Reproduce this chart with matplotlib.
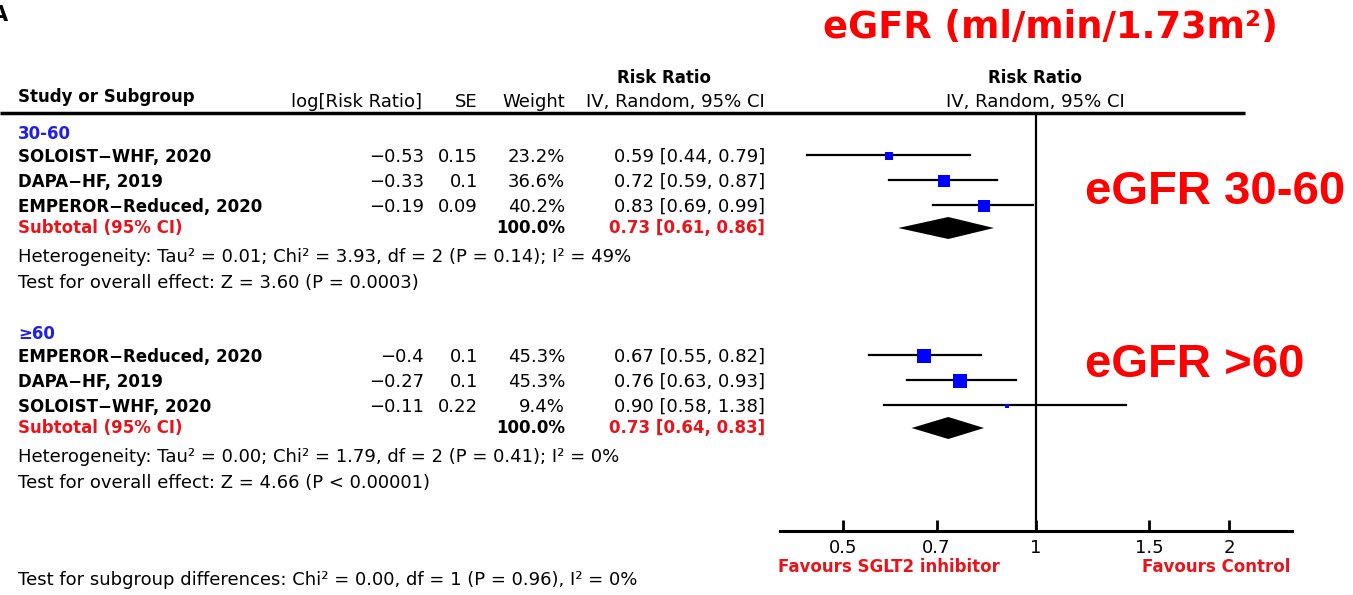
import matplotlib.pyplot as plt
import numpy as np
from matplotlib.ticker import FixedLocator, FixedFormatter, NullLocator

# data
groups = ['30-60', '\u226560']
studies_a = ['SOLOIST\u2212WHF, 2020', 'DAPA\u2212HF, 2019', 'EMPEROR\u2212Reduced, 2020']
studies_b = ['EMPEROR\u2212Reduced, 2020', 'DAPA\u2212HF, 2019', 'SOLOIST\u2212WHF, 2020']
logrr_a = [-0.53, -0.33, -0.19]
logrr_b = [-0.4, -0.27, -0.11]
se_a = [0.15, 0.1, 0.09]
se_b = [0.1, 0.1, 0.22]
weight_a = [23.2, 36.6, 40.2]
weight_b = [45.3, 45.3, 9.4]
rr_a = [0.59, 0.72, 0.83]
lo_a = [0.44, 0.59, 0.69]
hi_a = [0.79, 0.87, 0.99]
rr_b = [0.67, 0.76, 0.90]
lo_b = [0.55, 0.63, 0.58]
hi_b = [0.82, 0.93, 1.38]
sub_rr = [0.73, 0.73]
sub_lo = [0.61, 0.64]
sub_hi = [0.86, 0.83]
heterogeneity = ['Heterogeneity: Tau\u00b2 = 0.01; Chi\u00b2 = 3.93, df = 2 (P = 0.14); I\u00b2 = 49%',
                 'Heterogeneity: Tau\u00b2 = 0.00; Chi\u00b2 = 1.79, df = 2 (P = 0.41); I\u00b2 = 0%']
overall = ['Test for overall effect: Z = 3.60 (P = 0.0003)',
           'Test for overall effect: Z = 4.66 (P < 0.00001)']
subgroup_test = 'Test for subgroup differences: Chi\u00b2 = 0.00, df = 1 (P = 0.96), I\u00b2 = 0%'
ticks = [0.5, 0.7, 1, 1.5, 2]
tick_labels = ['0.5', '0.7', '1', '1.5', '2']

table = [
    (studies_a, logrr_a, se_a, weight_a, rr_a, lo_a, hi_a),
    (studies_b, logrr_b, se_b, weight_b, rr_b, lo_b, hi_b),
]

RED = '#e8141c'
BLUE = '#1f1fe6'
FS = 13     # regular text
FB = 12     # bold text

def num(v):
    return f'{v:g}'.replace('-', '\u2212')

fig = plt.figure(figsize=(13.53, 5.95), dpi=100)
tax = fig.add_axes([0, 0, 1, 1])
tax.set_xlim(0, 1353)
tax.set_ylim(595, 0)
tax.axis('off')

fax = fig.add_axes([780 / 1353, (595 - 531) / 595, 512 / 1353, (531 - 112) / 595])
fax.set_xscale('log')
fax.set_xlim(0.399, 2.507)
fax.set_ylim(531, 112)
fax.patch.set_alpha(0)
for s in ['top', 'left', 'right']:
    fax.spines[s].set_visible(False)
fax.spines['bottom'].set_linewidth(2.2)
fax.xaxis.set_major_locator(FixedLocator(ticks))
fax.xaxis.set_major_formatter(FixedFormatter(tick_labels))
fax.xaxis.set_minor_locator(NullLocator())
fax.tick_params(axis='x', direction='in', length=8, width=2, labelsize=FS, pad=6)
fax.set_yticks([])
fax.axvline(1, color='black', lw=1.6)

# headers
tax.text(-8, 15, 'A', fontsize=15, fontweight='bold', ha='left', va='center')
tax.text(823, 28, 'eGFR (ml/min/1.73m\u00b2)', fontsize=26.5, fontweight='bold',
         color='#ff0000', ha='left', va='center')
tax.text(18, 97, 'Study or Subgroup', fontsize=FB, fontweight='bold', va='center')
tax.text(422, 102, 'log[Risk Ratio]', fontsize=FS, ha='right', va='center')
tax.text(478, 102, 'SE', fontsize=FS, ha='right', va='center')
tax.text(565, 102, 'Weight', fontsize=FS, ha='right', va='center')
tax.text(765, 102, 'IV, Random, 95% CI', fontsize=FS, ha='right', va='center')
tax.text(664, 78, 'Risk Ratio', fontsize=FB, fontweight='bold', ha='center', va='center')
tax.text(1035, 78, 'Risk Ratio', fontsize=FB, fontweight='bold', ha='center', va='center')
tax.text(1035, 102, 'IV, Random, 95% CI', fontsize=FS, ha='center', va='center')
tax.plot([0, 1245], [113, 113], color='black', lw=2.5, solid_capstyle='butt')

step = 25
for g, (names, lrr, se, w, rr, lo, hi) in enumerate(table):
    y0 = 157 + 200 * g
    tax.text(18, y0 - 23, groups[g], fontsize=FB, fontweight='bold', color=BLUE, va='center')
    for i in range(len(names)):
        y = y0 + i * step
        tax.text(18, y, names[i], fontsize=FB, fontweight='bold', va='center')
        tax.text(424, y, num(lrr[i]), fontsize=FS, ha='right', va='center')
        tax.text(478, y, num(se[i]), fontsize=FS, ha='right', va='center')
        tax.text(565, y, f'{w[i]:.1f}%', fontsize=FS, ha='right', va='center')
        tax.text(765, y, f'{rr[i]:.2f} [{lo[i]:.2f}, {hi[i]:.2f}]', fontsize=FS,
                 ha='right', va='center')
        fax.plot([lo[i], hi[i]], [y - 2, y - 2], color='black', lw=1.6, zorder=2)
        side = 2.5 + 0.25 * w[i]
        fax.plot(rr[i], y - 1, marker='s', color='#0000ff', markersize=side * 0.72,
                 markeredgewidth=0, zorder=3)
    ys = y0 + 71
    tax.text(18, ys, 'Subtotal (95% CI)', fontsize=FB, fontweight='bold', color=RED, va='center')
    tax.text(565, ys, '100.0%', fontsize=FB, fontweight='bold', ha='right', va='center')
    tax.text(765, ys, f'{sub_rr[g]:.2f} [{sub_lo[g]:.2f}, {sub_hi[g]:.2f}]', fontsize=FB,
             fontweight='bold', color=RED, ha='right', va='center')
    fax.fill([sub_lo[g], sub_rr[g], sub_hi[g], sub_rr[g]], [ys, ys - 11, ys, ys + 11],
             color='black', lw=0, zorder=3)
    tax.text(18, y0 + 100, heterogeneity[g], fontsize=FS, va='center')
    tax.text(18, y0 + 126, overall[g], fontsize=FS, va='center')

tax.text(18, 580, subgroup_test, fontsize=FS, va='center')
tax.text(778, 567, 'Favours SGLT2 inhibitor', fontsize=FB, fontweight='bold', color=RED, va='center')
tax.text(1290, 567, 'Favours Control', fontsize=FB, fontweight='bold', color=RED,
         ha='right', va='center')

tax.text(1085, 192, 'eGFR 30-60', fontsize=34, fontweight='bold', color='#ff0000',
         family='Liberation Sans', va='center')
tax.text(1085, 365, 'eGFR >60', fontsize=34, fontweight='bold', color='#ff0000',
         family='Liberation Sans', va='center')

fig.savefig('out.png', dpi=100)
